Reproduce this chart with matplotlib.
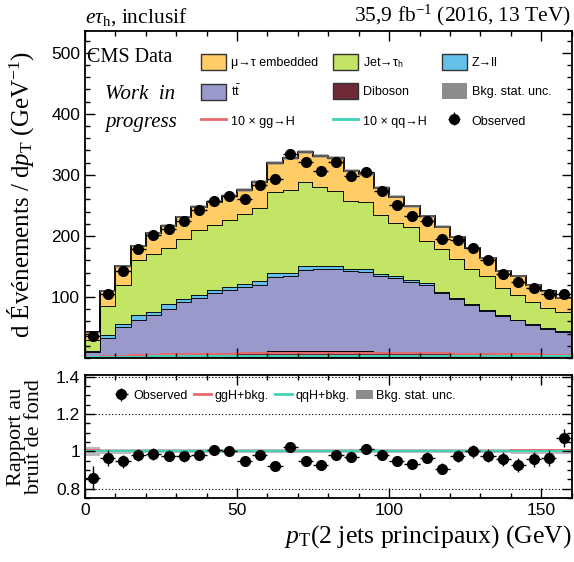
import matplotlib.pyplot as plt
import numpy as np
from matplotlib.patches import Patch
from matplotlib.lines import Line2D
from matplotlib.ticker import MultipleLocator, FixedLocator

plt.rcParams['mathtext.fontset'] = 'custom'
plt.rcParams['mathtext.rm'] = 'Liberation Serif'
plt.rcParams['mathtext.it'] = 'Liberation Serif:italic'
plt.rcParams['mathtext.bf'] = 'Liberation Serif:bold'
plt.rcParams['mathtext.sf'] = 'Liberation Sans'
plt.rcParams['font.family'] = ['Liberation Sans', 'DejaVu Sans']

# 32 bins of 5 GeV in pT(2 leading jets)
edges = np.arange(0, 165, 5)

# stacked backgrounds, events per GeV
diboson = [1, 2, 3, 3.5, 4, 5, 5.5, 6, 7, 8, 9, 10, 11, 11, 12, 12,
           12, 11, 11, 10, 9, 9, 8, 8, 7, 6, 6, 5, 5, 4, 4, 3]
ttbar = [9.5, 31, 47, 59.5, 67, 76, 85.5, 92, 99, 103, 107, 110, 122, 123, 132, 134,
         134, 131, 130, 125, 122, 116, 112, 98, 89, 81, 71.5, 64.5, 57, 50, 44, 40]
zll = [1.5, 4, 6, 7, 5, 7, 6, 6, 6, 5, 6, 6, 6, 6, 6, 5,
       4, 4, 4, 3, 3, 3, 3, 2, 2, 2, 1.5, 1.5, 1, 1, 1, 1]
jetfakes = [18, 48, 64, 90, 94, 93, 98, 105, 106, 110, 114, 120, 133, 136, 139, 129,
            124, 112, 110, 96, 87, 86, 68, 70, 64, 57, 55, 44, 41, 36, 33, 31]
embedded = [12, 24, 30, 23, 35, 36, 36, 39, 38, 40, 39, 42, 48, 52, 49, 51,
            53, 49, 46, 45, 43, 35, 41, 37, 36, 34, 30, 28, 30, 29, 27, 23]

# relative stat. uncertainty of the background sum
bkg_unc = [0.025, 0.015, 0.012, 0.01, 0.01, 0.01, 0.01, 0.01, 0.01, 0.01, 0.01,
           0.01, 0.01, 0.01, 0.01, 0.01, 0.01, 0.01, 0.01, 0.01, 0.01, 0.01,
           0.01, 0.01, 0.01, 0.01, 0.011, 0.011, 0.012, 0.012, 0.013, 0.013]

# signals (x10)
ggh10 = [2, 3, 4, 5, 5, 6, 6, 7, 7, 7, 8, 8, 9, 9, 9, 9,
         9, 9, 9, 8, 8, 8, 8, 8, 7, 7, 7, 6, 6, 6, 5, 5]
qqh10 = [1, 1.5, 2, 2, 2.5, 2.5, 3, 3, 3, 3, 3.5, 3.5, 3.5, 4, 4, 4,
         4, 4, 4, 4, 4, 4, 4, 3.5, 3.5, 3.5, 3.5, 3.5, 3, 3, 3, 3]

observed = [36, 105, 142, 179, 202, 212, 225, 243, 258, 266, 261, 283, 294, 335, 321, 307,
            321, 298, 304, 273, 250, 232, 224, 195, 193, 180, 160, 137, 124, 115, 105, 105]

c_emb = '#ffcc66'
c_jet = '#c2e566'
c_zll = '#64c0e8'
c_tt = '#9999cc'
c_vv = '#6e2a35'
c_ggh = '#e8696b'
c_qqh = '#3fd4b8'
c_unc = '#8c8c8c'

serif = 'Liberation Serif'

fig = plt.figure(figsize=(5.74, 5.62), dpi=100)
ax = fig.add_axes([0.148, 0.363, 0.848, 0.581])
rax = fig.add_axes([0.148, 0.114, 0.848, 0.219])

centers = 0.5 * (edges[:-1] + edges[1:])
obs = np.array(observed, dtype=float)
obs_err = np.sqrt(obs * 5) / 5

# stack, bottom to top
layers = [(diboson, c_vv), (ttbar, c_tt), (zll, c_zll), (jetfakes, c_jet), (embedded, c_emb)]
base = np.zeros(len(centers))
for vals, col in layers:
    top = base + np.array(vals, dtype=float)
    ax.stairs(top, edges, baseline=base, fill=True, color=col, lw=0)
    ax.stairs(top, edges, color='black', lw=1.3)
    base = top
total = base
unc = np.array(bkg_unc)
ax.stairs(total * (1 + unc), edges, baseline=total * (1 - unc), fill=True,
          color=c_unc, alpha=0.6, lw=0)

ax.stairs(ggh10, edges, color=c_ggh, lw=1.4)
ax.stairs(qqh10, edges, color=c_qqh, lw=1.4)

obs_h = ax.errorbar(centers, obs, xerr=2.5, yerr=obs_err, fmt='o', color='black',
                    ms=7, lw=1, capsize=0)

ax.set_xlim(0, 160)
ax.set_ylim(0, 535)
ax.xaxis.set_major_locator(MultipleLocator(50))
ax.xaxis.set_minor_locator(MultipleLocator(10))
ax.yaxis.set_minor_locator(MultipleLocator(20))
ax.set_yticks([100, 200, 300, 400, 500])
ax.tick_params(labelbottom=False)
ax.set_ylabel(r'd Événements / d$p_\mathrm{T}$ (GeV$^{-1}$)', family=serif, fontsize=18)

ax.text(0.005, 0.95, 'CMS Data', transform=ax.transAxes, family=serif, fontsize=14.5,
        va='top')
ax.text(0.042, 0.835, 'Work  in', transform=ax.transAxes, family=serif, fontsize=15,
        style='italic', va='top')
ax.text(0.042, 0.75, 'progress', transform=ax.transAxes, family=serif, fontsize=15,
        style='italic', va='top')
ax.text(0.0, 1.012, r'$e\tau_\mathrm{h}$, inclusif', transform=ax.transAxes,
        family=serif, fontsize=15.5, ha='left', va='bottom')
ax.text(1.0, 1.012, r'35,9 fb$^{-1}$ (2016, 13 TeV)', transform=ax.transAxes,
        family=serif, fontsize=15.5, ha='right', va='bottom')

h_emb = Patch(facecolor=c_emb, edgecolor='#333333', lw=1)
h_jet = Patch(facecolor=c_jet, edgecolor='#333333', lw=1)
h_zll = Patch(facecolor=c_zll, edgecolor='#333333', lw=1)
h_tt = Patch(facecolor=c_tt, edgecolor='#333333', lw=1)
h_vv = Patch(facecolor=c_vv, edgecolor='#333333', lw=1)
h_unc = Patch(facecolor=c_unc, edgecolor='none')
h_ggh = Line2D([], [], color=c_ggh, lw=2)
h_qqh = Line2D([], [], color=c_qqh, lw=2)

# legend filled column by column
handles = [h_emb, h_tt, h_ggh, h_jet, h_vv, h_qqh, h_zll, h_unc, obs_h]
labels = ['μ→τ embedded', r'$\mathsf{t\bar{t}}$', '10 × gg→H',
          r'Jet→τ$_\mathsf{h}$', 'Diboson', '10 × qq→H',
          'Z→ll', 'Bkg. stat. unc.', 'Observed']
ax.legend(handles, labels, ncol=3, loc='upper left', bbox_to_anchor=(0.215, 0.965),
          frameon=False, fontsize=9, handlelength=2.0, handleheight=1.6,
          labelspacing=1.05, columnspacing=1.2, handletextpad=0.4)

# ratio panel
ratio = obs / total
ratio_err = obs_err / total
rax.stairs(1 + unc, edges, baseline=1 - unc, fill=True, color=c_unc, alpha=0.6, lw=0)
rax.stairs((total + np.array(ggh10) / 10) / total, edges, color=c_ggh, lw=1.4)
rax.stairs((total + np.array(qqh10) / 10) / total, edges, color=c_qqh, lw=1.4)
robs = rax.errorbar(centers, ratio, xerr=2.5, yerr=ratio_err, fmt='o', color='black',
                    ms=7, lw=1, capsize=0)
for yv in [0.8, 1.2, 1.4]:
    rax.axhline(yv, color='black', lw=0.8, ls=(0, (1, 2)), zorder=0)

rax.set_xlim(0, 160)
rax.set_ylim(0.75, 1.41)
rax.xaxis.set_major_locator(MultipleLocator(50))
rax.xaxis.set_minor_locator(MultipleLocator(10))
rax.yaxis.set_major_locator(FixedLocator([0.8, 1.0, 1.2, 1.4]))
rax.yaxis.set_minor_locator(MultipleLocator(0.05))
rax.set_yticklabels(['0.8', '1', '1.2', '1.4'])
rax.set_ylabel('Rapport au\nbruit de fond', family=serif, fontsize=16, linespacing=0.9)
rax.set_xlabel(r'$p_\mathrm{T}$(2 jets principaux) (GeV)', family=serif, fontsize=18.5,
               loc='right')
rax.legend([robs, Line2D([], [], color=c_ggh, lw=2), Line2D([], [], color=c_qqh, lw=2),
            Patch(facecolor=c_unc, edgecolor='none')],
           ['Observed', 'ggH+bkg.', 'qqH+bkg.', 'Bkg. stat. unc.'],
           ncol=4, loc='upper left', bbox_to_anchor=(0.035, 0.97), frameon=False,
           fontsize=9, handlelength=1.3, columnspacing=0.55, handletextpad=0.3)

for a in (ax, rax):
    a.tick_params(which='both', direction='in', top=True, right=True, labelsize=12.5)
    a.tick_params(which='major', length=7, width=1)
    a.tick_params(which='minor', length=3.5, width=1)
    for s in a.spines.values():
        s.set_linewidth(1.3)
ax.yaxis.set_label_coords(-0.1, 0.5)
rax.yaxis.set_label_coords(-0.085, 0.5)

fig.savefig('out.png', dpi=100)
